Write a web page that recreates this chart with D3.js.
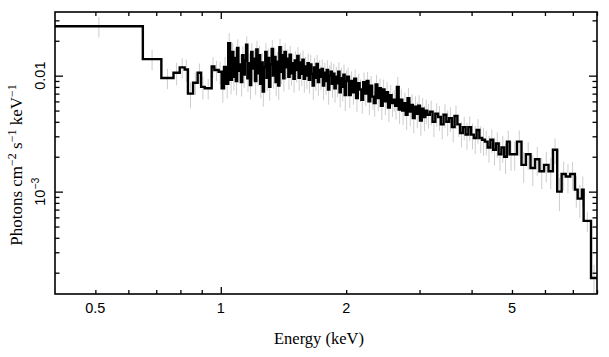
<!DOCTYPE html>
<html><head><meta charset="utf-8">
<script src="https://cdn.jsdelivr.net/npm/d3@7"></script>
<style>body{margin:0;background:#fff}svg{display:block}</style>
</head><body><svg id="c" width="609" height="357"></svg>
<script>
// Bin edges (keV): n+1 values
const binEdges = [
  0.40, 0.65, 0.72, 0.77, 0.797, 0.819, 0.834, 0.858, 0.880, 0.897, 0.915, 0.951, 0.965, 0.988, 1.005, 1.018, 1.030, 1.042, 1.053,
  1.064, 1.0716, 1.0792, 1.0868, 1.0945, 1.1023, 1.1101, 1.1180, 1.1260, 1.1339,
  1.1420, 1.1501, 1.1583, 1.1665, 1.1748, 1.1831, 1.1915, 1.2000, 1.2085, 1.2171,
  1.2257, 1.2344, 1.2432, 1.2520, 1.2609, 1.2699, 1.2789, 1.2880, 1.2971, 1.3063,
  1.3156, 1.3249, 1.3343, 1.3438, 1.3534, 1.3630, 1.3727, 1.3824, 1.3922, 1.4021,
  1.4121, 1.4221, 1.4322, 1.4424, 1.4526, 1.4629, 1.4733, 1.4838, 1.4943, 1.5049,
  1.5156, 1.5264, 1.5372, 1.5481, 1.5591, 1.5702, 1.5813, 1.5926, 1.6039, 1.6153,
  1.6267, 1.6383, 1.6499, 1.6617, 1.6735, 1.6853, 1.6973, 1.7094, 1.7215, 1.7337,
  1.7460, 1.7584, 1.7709, 1.7835, 1.7961, 1.8089, 1.8217, 1.8347, 1.8477, 1.8608,
  1.8740, 1.8873, 1.9007, 1.9142, 1.9278, 1.9415, 1.9553, 1.9692, 1.9832, 1.9972,
  2.0110, 2.0308, 2.0509, 2.0711, 2.0915, 2.1122, 2.1330, 2.1540, 2.1753, 2.1967,
  2.2184, 2.2403, 2.2624, 2.2847, 2.3072, 2.3300, 2.3530, 2.3762, 2.3996, 2.4233,
  2.4472, 2.4713, 2.4957, 2.5203, 2.5452, 2.5703, 2.5956, 2.6212, 2.6471, 2.6732,
  2.6996, 2.7262, 2.7531, 2.7802, 2.8077, 2.8354, 2.8633, 2.8916, 2.9201, 2.9489,
  2.9780, 3.0073, 3.0370, 3.0670, 3.0972, 3.1270,
  3.1750, 3.2237, 3.2731, 3.3233, 3.3743, 3.4261, 3.4786, 3.5320, 3.5862, 3.6412,
  3.6970, 3.7537, 3.8113, 3.8698, 3.9291, 3.9894, 4.0506, 4.1127, 4.1758, 4.2398,
  4.3049, 4.3709, 4.4379, 4.5060, 4.5751, 4.6453, 4.7166, 4.7889, 4.8624, 4.9369,
  5.013, 5.14, 5.27, 5.40, 5.54, 5.68, 5.82, 5.97, 6.12, 6.27, 6.42, 6.58, 6.73, 6.90, 7.08, 7.19, 7.36, 7.43, 7.74,
  8.0
];
// Unfolded flux (photons cm^-2 s^-1 keV^-1), one per bin
const flux = [
  0.0267, 0.0139, 0.00955, 0.0106, 0.0118, 0.0113, 0.0070, 0.0087, 0.0106, 0.0080, 0.0078, 0.0120, 0.0112, 0.0108, 0.0078, 0.0119, 0.0085, 0.0191, 0.0092,
  0.0160, 0.0098, 0.0142, 0.0090, 0.0173, 0.0110, 0.0125, 0.0088, 0.0150, 0.0102,
  0.0135, 0.0185, 0.0095, 0.0128, 0.0083, 0.0160, 0.0115, 0.0140, 0.0090, 0.0168,
  0.0105, 0.0150, 0.0085, 0.0130, 0.0073, 0.0118, 0.0160, 0.0096, 0.0142, 0.0080,
  0.0125, 0.0170, 0.0100, 0.0145, 0.0088, 0.0132, 0.0082, 0.0176, 0.0108, 0.0150,
  0.0095, 0.0160, 0.0118, 0.0140, 0.0098, 0.0152, 0.0105, 0.0128, 0.0094, 0.0135,
  0.0112, 0.0148, 0.0096, 0.0130, 0.0104, 0.0137, 0.0094, 0.0120, 0.0100, 0.0128,
  0.0092, 0.0125, 0.0104, 0.0082, 0.0118, 0.0096, 0.0126, 0.0088, 0.0112, 0.0098,
  0.0114, 0.0082, 0.0106, 0.0090, 0.0112, 0.0076, 0.0100, 0.0108, 0.0085, 0.0104,
  0.0078, 0.0098, 0.0086, 0.0108, 0.0072, 0.0095, 0.0080, 0.0102, 0.0068, 0.0090,
  0.0098, 0.0068, 0.0090, 0.0072, 0.0094, 0.0064, 0.0086, 0.0076, 0.0062, 0.0088,
  0.0070, 0.0090, 0.0060, 0.0082, 0.0066, 0.0058, 0.0084, 0.0064, 0.0078, 0.0055,
  0.0076, 0.0060, 0.0072, 0.0053, 0.0068, 0.0058, 0.0062, 0.0055, 0.0080, 0.0051,
  0.0062, 0.0050, 0.0058, 0.0046, 0.0064, 0.0049, 0.0056, 0.0043, 0.0054, 0.0047,
  0.0055, 0.0041, 0.0052, 0.0044, 0.0050, 0.0046,
  0.0049, 0.0040, 0.0047, 0.0044, 0.0038, 0.0046, 0.0040, 0.0043, 0.0036, 0.0045,
  0.0038, 0.0032, 0.0036, 0.0031, 0.0036, 0.0031, 0.0029, 0.0034, 0.0029, 0.0028,
  0.0027, 0.0024, 0.0028, 0.0023, 0.0026, 0.0021, 0.0024, 0.0020, 0.0027, 0.0021,
  0.0021, 0.0027, 0.0017, 0.0021, 0.0016, 0.0019, 0.0015, 0.0017, 0.0015, 0.0023, 0.00100, 0.00142, 0.00135, 0.00142, 0.00104, 0.00087, 0.00104, 0.00056, 0.00018
];
// Relative 1-sigma errors, one per bin
const relErr = [
  0.20, 0.20, 0.20, 0.22, 0.20, 0.22, 0.25, 0.22, 0.20, 0.22, 0.20, 0.20, 0.20, 0.22, 0.25, 0.22, 0.25, 0.22, 0.25,
  0.20, 0.24, 0.21, 0.25, 0.19, 0.22, 0.21, 0.25, 0.20, 0.23,
  0.21, 0.18, 0.24, 0.21, 0.25, 0.19, 0.22, 0.20, 0.24, 0.19,
  0.23, 0.20, 0.25, 0.21, 0.26, 0.22, 0.19, 0.23, 0.20, 0.24,
  0.21, 0.19, 0.23, 0.20, 0.24, 0.21, 0.25, 0.18, 0.22, 0.20,
  0.23, 0.19, 0.21, 0.20, 0.23, 0.19, 0.22, 0.21, 0.24, 0.20,
  0.22, 0.19, 0.23, 0.21, 0.22, 0.20, 0.24, 0.21, 0.23, 0.21,
  0.24, 0.21, 0.22, 0.25, 0.21, 0.23, 0.20, 0.24, 0.22, 0.23,
  0.21, 0.25, 0.22, 0.24, 0.21, 0.26, 0.23, 0.22, 0.24, 0.22,
  0.25, 0.22, 0.24, 0.21, 0.26, 0.23, 0.25, 0.22, 0.27, 0.23,
  0.20, 0.23, 0.21, 0.22, 0.20, 0.24, 0.21, 0.22, 0.24, 0.21,
  0.22, 0.20, 0.24, 0.21, 0.23, 0.24, 0.21, 0.23, 0.21, 0.25,
  0.22, 0.24, 0.22, 0.25, 0.22, 0.24, 0.21, 0.24, 0.22, 0.25,
  0.22, 0.25, 0.23, 0.26, 0.22, 0.25, 0.23, 0.26, 0.23, 0.25,
  0.23, 0.26, 0.23, 0.25, 0.24, 0.24,
  0.24, 0.26, 0.23, 0.24, 0.26, 0.23, 0.25, 0.24, 0.26, 0.23,
  0.22, 0.25, 0.23, 0.26, 0.24, 0.25, 0.27, 0.24, 0.26, 0.27,
  0.24, 0.26, 0.23, 0.27, 0.25, 0.28, 0.26, 0.29, 0.24, 0.28,
  0.28, 0.25, 0.30, 0.27, 0.30, 0.28, 0.30, 0.29, 0.30, 0.25, 0.32, 0.28, 0.28, 0.27, 0.30, 0.32, 0.30, 0.20, 0.30
];
const xDomain = [0.4, 8.0];
const yDomain = [1.31e-4, 0.0354];
const xMajorTicks = [1];
const xMinorTicks = [0.5, 0.6, 0.7, 0.8, 0.9, 2, 3, 4, 5, 6, 7, 8];
const xTickLabels = [0.5, 1, 2, 5];
const yMajorTicks = [0.001, 0.01];
const yMinorTicks = [2e-4, 3e-4, 4e-4, 5e-4, 6e-4, 7e-4, 8e-4, 9e-4, 2e-3, 3e-3, 4e-3, 5e-3, 6e-3, 7e-3, 8e-3, 9e-3, 0.02, 0.03];

const W = 609, H = 357;
const m = {left: 55, right: 12, top: 12, bottom: 63};
const svg = d3.select('#c');
const x = d3.scaleLog().domain(xDomain).range([m.left, W - m.right]);
const y = d3.scaleLog().domain(yDomain).range([H - m.bottom, m.top]);
const pw = W - m.left - m.right, ph = H - m.top - m.bottom;

svg.append('defs').append('clipPath').attr('id', 'clip')
  .append('rect').attr('x', m.left).attr('y', m.top).attr('width', pw).attr('height', ph);

const bins = flux.map((v, i) => ({lo: binEdges[i], hi: binEdges[i + 1], v, e: relErr[i]}));

// error bars
svg.append('g').attr('clip-path', 'url(#clip)')
  .selectAll('line').data(bins).join('line')
  .attr('x1', d => x(Math.sqrt(d.lo * d.hi))).attr('x2', d => x(Math.sqrt(d.lo * d.hi)))
  .attr('y1', d => y(d.v * (1 + d.e))).attr('y2', d => y(d.v * (1 - d.e)))
  .attr('stroke', '#cdcdcd').attr('stroke-width', 1);

// step histogram
const pts = bins.map(d => [d.lo, d.v]);
pts.push([bins[bins.length - 1].hi, bins[bins.length - 1].v]);
svg.append('path').attr('clip-path', 'url(#clip)')
  .attr('d', d3.line().x(d => x(d[0])).y(d => y(d[1])).curve(d3.curveStepAfter)(pts))
  .attr('fill', 'none').attr('stroke', '#000').attr('stroke-width', 2.4);

// axes (ticks inward on all sides)
function ax(gen, tr, vals, size) {
  const g = svg.append('g').attr('transform', tr)
    .call(gen.tickValues(vals).tickSize(size).tickFormat(''));
  g.select('.domain').remove();
  g.selectAll('line').attr('stroke', '#000').attr('stroke-width', 1.3);
  return g;
}
ax(d3.axisBottom(x), `translate(0,${H - m.bottom})`, xMajorTicks, -7);
ax(d3.axisBottom(x), `translate(0,${H - m.bottom})`, xMinorTicks, -4);
ax(d3.axisTop(x), `translate(0,${m.top})`, xMajorTicks, -7);
ax(d3.axisTop(x), `translate(0,${m.top})`, xMinorTicks, -4);
ax(d3.axisLeft(y), `translate(${m.left},0)`, yMajorTicks, -8);
ax(d3.axisLeft(y), `translate(${m.left},0)`, yMinorTicks, -4.5);
ax(d3.axisRight(y), `translate(${W - m.right},0)`, yMajorTicks, -8);
ax(d3.axisRight(y), `translate(${W - m.right},0)`, yMinorTicks, -4.5);

svg.append('rect').attr('x', m.left).attr('y', m.top).attr('width', pw).attr('height', ph)
  .attr('fill', 'none').attr('stroke', '#000').attr('stroke-width', 1.6);

// x tick labels
svg.append('g').selectAll('text').data(xTickLabels).join('text')
  .attr('x', d => x(d)).attr('y', 312.5).attr('text-anchor', 'middle')
  .attr('font-family', 'Liberation Sans, Arial, sans-serif').attr('font-size', 14.5)
  .text(d => String(d));

// y tick labels (rotated)
const yl = svg.append('g').attr('font-family', 'Liberation Sans, Arial, sans-serif').attr('font-size', 14.5);
yl.append('text').attr('transform', `translate(45,${y(0.01)}) rotate(-90)`).attr('text-anchor', 'middle').text('0.01');
const t3 = yl.append('text').attr('transform', `translate(45,${y(0.001)}) rotate(-90)`).attr('text-anchor', 'middle');
t3.append('tspan').text('10');
t3.append('tspan').attr('dy', -6).attr('font-size', 10.5).text('−3');

// axis titles
svg.append('text').attr('x', 319).attr('y', 343.5).attr('text-anchor', 'middle')
  .attr('font-family', 'Liberation Serif, Times New Roman, serif').attr('font-size', 16.5)
  .text('Energy (keV)');
const yt = svg.append('text').attr('transform', `translate(22,165) rotate(-90)`)
  .attr('text-anchor', 'middle').attr('font-family', 'Liberation Serif, Times New Roman, serif').attr('font-size', 17);
yt.append('tspan').text('Photons cm');
yt.append('tspan').attr('dy', -6.5).attr('font-size', 12).text('−2');
yt.append('tspan').attr('dy', 6.5).text(' s');
yt.append('tspan').attr('dy', -6.5).attr('font-size', 12).text('−1');
yt.append('tspan').attr('dy', 6.5).text(' keV');
yt.append('tspan').attr('dy', -6.5).attr('font-size', 12).text('−1');
</script></body></html>
